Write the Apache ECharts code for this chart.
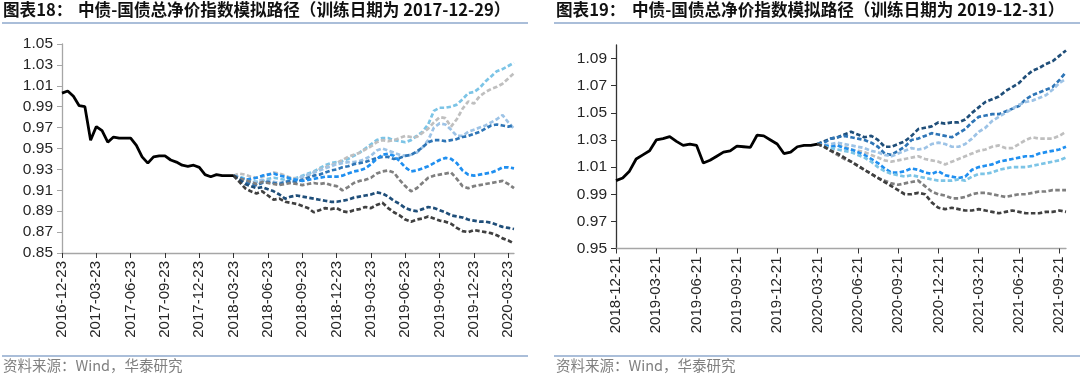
<!DOCTYPE html>
<html>
<head>
<meta charset="utf-8">
<script src="https://cdn.jsdelivr.net/npm/echarts@6/dist/echarts.min.js"></script>
<style>html,body{margin:0;padding:0;background:#fff}#c{width:1080px;height:375px}</style>
</head>
<body>
<div id="c"></div>
<script>
// ---- tick labels (x) ----
const tickLabelsL = ['2016-12-23','2017-03-23','2017-06-23','2017-09-23','2017-12-23','2018-03-23','2018-06-23','2018-09-23','2018-12-23','2019-03-23','2019-06-23','2019-09-23','2019-12-23','2020-03-23'];
const tickLabelsR = ['2018-12-21','2019-03-21','2019-06-21','2019-09-21','2019-12-21','2020-03-21','2020-06-21','2020-09-21','2020-12-21','2021-03-21','2021-06-21','2021-09-21'];
// ---- y tick labels ----
const yTicksL = [0.85,0.87,0.89,0.91,0.93,0.95,0.97,0.99,1.01,1.03,1.05];
const yTicksR = [0.95,0.97,0.99,1.01,1.03,1.05,1.07,1.09];

// ---- left chart: history (black) and 8 simulated paths ----
const histL = [1.003,1.005,1.000,0.991,0.990,0.958,0.971,0.967,0.956,0.961,0.960,0.960,0.960,0.953,0.942,0.936,0.942,0.943,0.943,0.939,0.937,0.934,0.933,0.934,0.932,0.925,0.923,0.925,0.924,0.924,0.924];
const lightBlueL = [0.924,0.923,0.921,0.919,0.918,0.919,0.921,0.922,0.921,0.920,0.921,0.922,0.924,0.926,0.928,0.931,0.934,0.936,0.937,0.938,0.940,0.943,0.946,0.950,0.954,0.958,0.960,0.960,0.958,0.957,0.956,0.958,0.962,0.966,0.973,0.986,0.989,0.989,0.990,0.992,0.997,1.003,1.004,1.008,1.014,1.019,1.024,1.026,1.029,1.032];
const lightGrayL = [0.924,0.926,0.925,0.923,0.922,0.923,0.925,0.927,0.926,0.924,0.922,0.921,0.922,0.924,0.927,0.930,0.932,0.934,0.936,0.939,0.942,0.944,0.946,0.949,0.952,0.956,0.958,0.957,0.958,0.960,0.962,0.961,0.961,0.965,0.969,0.975,0.980,0.979,0.971,0.978,0.988,0.995,0.993,1.000,1.004,1.007,1.009,1.012,1.017,1.022];
const paleBlueL = [0.924,0.922,0.919,0.917,0.918,0.920,0.919,0.918,0.917,0.918,0.919,0.921,0.923,0.925,0.927,0.929,0.931,0.933,0.935,0.936,0.937,0.937,0.938,0.940,0.943,0.948,0.950,0.948,0.946,0.944,0.943,0.944,0.946,0.951,0.958,0.970,0.974,0.973,0.968,0.962,0.962,0.966,0.968,0.970,0.972,0.975,0.978,0.982,0.975,0.969];
const steelBlueL = [0.924,0.921,0.918,0.916,0.915,0.917,0.918,0.917,0.916,0.918,0.919,0.918,0.920,0.922,0.924,0.925,0.927,0.929,0.930,0.932,0.933,0.935,0.936,0.937,0.939,0.941,0.942,0.942,0.940,0.941,0.943,0.944,0.947,0.951,0.956,0.958,0.958,0.957,0.958,0.959,0.961,0.962,0.964,0.966,0.969,0.972,0.973,0.972,0.971,0.972];
const brightBlueL = [0.924,0.922,0.920,0.921,0.922,0.924,0.925,0.926,0.924,0.923,0.921,0.920,0.919,0.920,0.921,0.922,0.923,0.923,0.923,0.924,0.926,0.928,0.929,0.931,0.935,0.940,0.944,0.945,0.943,0.938,0.932,0.928,0.929,0.931,0.933,0.936,0.939,0.941,0.940,0.936,0.929,0.925,0.924,0.925,0.926,0.927,0.929,0.932,0.932,0.931];
const grayL = [0.924,0.921,0.920,0.918,0.916,0.918,0.917,0.916,0.915,0.916,0.917,0.916,0.915,0.916,0.917,0.916,0.917,0.915,0.914,0.910,0.913,0.917,0.919,0.920,0.922,0.926,0.928,0.929,0.927,0.920,0.914,0.909,0.912,0.917,0.922,0.924,0.925,0.926,0.927,0.921,0.914,0.912,0.914,0.915,0.916,0.917,0.918,0.919,0.916,0.912];
const navyL = [0.924,0.920,0.916,0.914,0.912,0.913,0.911,0.909,0.906,0.902,0.904,0.905,0.904,0.903,0.902,0.901,0.900,0.899,0.899,0.900,0.901,0.903,0.904,0.905,0.906,0.908,0.907,0.904,0.900,0.897,0.893,0.891,0.890,0.892,0.894,0.893,0.891,0.889,0.886,0.885,0.884,0.882,0.881,0.880,0.880,0.879,0.877,0.875,0.874,0.873];
const darkGrayL = [0.924,0.918,0.912,0.909,0.907,0.909,0.905,0.901,0.902,0.899,0.898,0.897,0.895,0.893,0.889,0.891,0.893,0.892,0.893,0.890,0.889,0.891,0.892,0.894,0.893,0.896,0.898,0.893,0.889,0.886,0.882,0.880,0.882,0.883,0.885,0.883,0.881,0.880,0.878,0.874,0.871,0.870,0.872,0.871,0.870,0.869,0.867,0.864,0.862,0.859];

// ---- right chart ----
const histR = [1.000,1.002,1.007,1.016,1.019,1.022,1.030,1.031,1.0325,1.029,1.026,1.027,1.026,1.013,1.015,1.018,1.021,1.022,1.0255,1.025,1.0245,1.0335,1.033,1.030,1.027,1.020,1.021,1.025,1.026,1.026,1.027];
const navyR = [1.027,1.029,1.031,1.032,1.034,1.036,1.034,1.032,1.033,1.030,1.025,1.025,1.027,1.029,1.033,1.038,1.039,1.040,1.043,1.042,1.043,1.043,1.045,1.050,1.054,1.058,1.060,1.062,1.066,1.069,1.072,1.077,1.081,1.083,1.086,1.088,1.092,1.096];
const midBlueR = [1.027,1.028,1.031,1.032,1.033,1.032,1.031,1.030,1.028,1.025,1.020,1.019,1.022,1.025,1.030,1.031,1.033,1.035,1.034,1.033,1.032,1.035,1.038,1.043,1.047,1.048,1.049,1.049,1.051,1.053,1.055,1.060,1.063,1.065,1.067,1.069,1.074,1.080];
const paleBlueR = [1.027,1.026,1.027,1.028,1.027,1.026,1.025,1.024,1.022,1.021,1.019,1.018,1.020,1.022,1.024,1.023,1.024,1.027,1.028,1.027,1.025,1.025,1.027,1.031,1.036,1.039,1.044,1.047,1.050,1.053,1.056,1.058,1.059,1.061,1.063,1.067,1.072,1.075];
const lightGrayR = [1.027,1.026,1.025,1.026,1.025,1.023,1.022,1.021,1.019,1.017,1.015,1.014,1.015,1.016,1.017,1.018,1.016,1.015,1.014,1.012,1.014,1.016,1.018,1.020,1.022,1.023,1.025,1.026,1.024,1.024,1.027,1.030,1.032,1.031,1.031,1.031,1.033,1.036];
const brightBlueR = [1.027,1.026,1.025,1.026,1.024,1.023,1.021,1.019,1.016,1.013,1.009,1.006,1.006,1.007,1.009,1.008,1.006,1.005,1.007,1.004,1.003,1.002,1.003,1.008,1.010,1.011,1.012,1.014,1.015,1.016,1.017,1.018,1.018,1.020,1.021,1.022,1.023,1.025];
const lightBlueR = [1.027,1.025,1.024,1.023,1.022,1.021,1.019,1.017,1.014,1.010,1.007,1.005,1.004,1.003,1.004,1.003,1.002,1.001,1.000,1.000,1.000,1.001,1.000,1.003,1.005,1.005,1.006,1.008,1.009,1.010,1.010,1.010,1.011,1.012,1.013,1.014,1.015,1.017];
const grayR = [1.027,1.025,1.022,1.019,1.016,1.014,1.011,1.008,1.005,1.002,1.000,0.998,0.997,0.998,0.999,1.000,0.996,0.992,0.990,0.989,0.987,0.987,0.988,0.990,0.991,0.991,0.990,0.989,0.988,0.989,0.990,0.990,0.991,0.992,0.992,0.993,0.993,0.993];
const darkGrayR = [1.027,1.025,1.022,1.020,1.017,1.014,1.011,1.008,1.005,1.002,0.999,0.996,0.993,0.990,0.990,0.991,0.990,0.984,0.980,0.979,0.980,0.979,0.978,0.978,0.979,0.978,0.977,0.976,0.977,0.978,0.977,0.976,0.976,0.976,0.977,0.977,0.978,0.977];

// ---- build categories: 6 sample points per quarter between tick dates ----
const STEPS = 6;
function fmt(d){const m=d.getUTCMonth()+1, dd=d.getUTCDate();return d.getUTCFullYear()+'-'+(m<10?'0':'')+m+'-'+(dd<10?'0':'')+dd;}
function buildCats(ticks, tail){
  const out=[];
  ticks.forEach((t,q)=>{
    const n = q<ticks.length-1 ? STEPS : tail+1;
    const base = Date.parse(t+'T00:00:00Z');
    for(let k=0;k<n;k++){ out.push(k===0 ? t : fmt(new Date(base + Math.round(k*91/STEPS)*86400000))); }
  });
  return out;
}
const catsL = buildCats(tickLabelsL, 1);
const catsR = buildCats(tickLabelsR, 1);
const isTick = (i)=> i % STEPS === 0;

function pad(arr, start){ return new Array(start).fill(null).concat(arr); }
const START = histL.length - 1;

const fontNum = 'Liberation Sans, Arial, sans-serif';
const fontCJK = '"Noto Sans CJK SC", sans-serif';

function dashed(name, data, color, xi){
  return {name, type:'line', xAxisIndex:xi, yAxisIndex:xi, data:pad(data, START), showSymbol:false, symbol:'none',
    lineStyle:{color, width:2.7, type:[4.5,2.4]}, itemStyle:{color}, animation:false, z:2};
}
function solid(data, xi){
  return {type:'line', xAxisIndex:xi, yAxisIndex:xi, data, showSymbol:false, symbol:'none',
    lineStyle:{color:'#000', width:2.8}, animation:false, z:3};
}

const C = {darkGray:'#404040', navy:'#1F4E79', gray:'#7F7F7F', bright:'#1F8FF0', steel:'#2E75B6', pale:'#9DC3E6', lightGray:'#BFBFBF', lightBlue:'#7CC4E6'};

function xAxis(data, gi, color){
  return {type:'category', gridIndex:gi, data, boundaryGap:false,
    axisLine:{lineStyle:{color, width:1.3}},
    axisTick:{interval:(i)=>isTick(i), length:5, inside:false, lineStyle:{color:'#333', width:1}},
    axisLabel:{interval:(i)=>isTick(i), rotate:90, fontSize:15, color:'#262626', margin:8, fontFamily:fontNum}};
}

const option = {
  backgroundColor:'#fff',
  animation:false,
  grid:[{left:62, top:44, width:452, height:209}, {left:616, top:45, width:450, height:203.5}],
  xAxis:[xAxis(catsL,0,'#A6A6A6'), xAxis(catsR,1,'#A6A6A6')],
  yAxis:[
    {type:'value', gridIndex:0, min:0.85, max:1.05, interval:0.02, splitLine:{show:false},
      axisLine:{show:true, lineStyle:{color:'#A6A6A6', width:1.3}},
      axisTick:{show:true, length:5, lineStyle:{color:'#A6A6A6'}, customValues:yTicksL},
      axisLabel:{customValues:yTicksL, formatter:(v)=>v.toFixed(2), fontSize:15.5, color:'#262626', margin:9, fontFamily:fontNum}},
    {type:'value', gridIndex:1, min:0.95, max:1.10, interval:0.02, splitLine:{show:false},
      axisLine:{show:true, lineStyle:{color:'#333', width:1.3}},
      axisTick:{show:true, length:5, lineStyle:{color:'#333'}, customValues:yTicksR},
      axisLabel:{customValues:yTicksR, formatter:(v)=>v.toFixed(2), fontSize:15.5, color:'#262626', margin:9, fontFamily:fontNum}}
  ],
  series:[
    dashed('s1', lightBlueL, C.lightBlue, 0),
    dashed('s2', lightGrayL, C.lightGray, 0),
    dashed('s3', paleBlueL, C.pale, 0),
    dashed('s4', steelBlueL, C.steel, 0),
    dashed('s5', brightBlueL, C.bright, 0),
    dashed('s6', grayL, C.gray, 0),
    dashed('s7', navyL, C.navy, 0),
    dashed('s8', darkGrayL, C.darkGray, 0),
    solid(histL, 0),
    dashed('r1', navyR, C.navy, 1),
    dashed('r2', midBlueR, C.steel, 1),
    dashed('r3', paleBlueR, C.pale, 1),
    dashed('r4', lightGrayR, C.lightGray, 1),
    dashed('r5', brightBlueR, C.bright, 1),
    dashed('r6', lightBlueR, C.lightBlue, 1),
    dashed('r7', grayR, C.gray, 1),
    dashed('r8', darkGrayR, C.darkGray, 1),
    solid(histR, 1)
  ],
  graphic:[
    {type:'text', left:3, top:1, style:{text:'图表18：', font:'bold 16.6px '+fontCJK, fill:'#111'}},
    {type:'text', left:78, top:1, style:{text:'中债-国债总净价指数模拟路径（训练日期为 2017-12-29）', font:'bold 16.6px '+fontCJK, fill:'#111'}},
    {type:'text', left:556, top:1, style:{text:'图表19：', font:'bold 16.6px '+fontCJK, fill:'#111'}},
    {type:'text', left:632, top:1, style:{text:'中债-国债总净价指数模拟路径（训练日期为 2019-12-31）', font:'bold 16.6px '+fontCJK, fill:'#111'}},
    {type:'line', shape:{x1:2, y1:23, x2:528, y2:23}, style:{stroke:'#8EA9CC', lineWidth:1.5}},
    {type:'line', shape:{x1:554, y1:23, x2:1080, y2:23}, style:{stroke:'#8EA9CC', lineWidth:1.5}},
    {type:'line', shape:{x1:2, y1:356, x2:528, y2:356}, style:{stroke:'#8EA9CC', lineWidth:1.5}},
    {type:'line', shape:{x1:554, y1:356, x2:1080, y2:356}, style:{stroke:'#8EA9CC', lineWidth:1.5}},
    {type:'text', left:3, top:358, style:{text:'资料来源：Wind，华泰研究', font:'14.5px '+fontCJK, fill:'#808080'}},
    {type:'text', left:556, top:358, style:{text:'资料来源：Wind，华泰研究', font:'14.5px '+fontCJK, fill:'#808080'}}
  ]
};
const chart = echarts.init(document.getElementById('c'), null, {renderer:'canvas'});
chart.setOption(option);
</script>
</body>
</html>
